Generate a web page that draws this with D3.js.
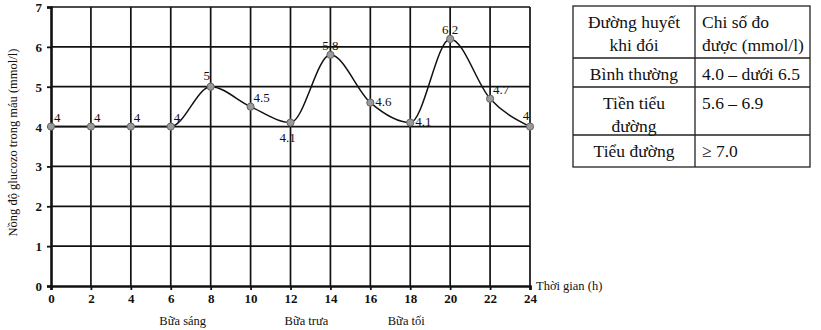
<!DOCTYPE html>
<html>

<head>
    <meta charset="UTF-8" />
    <title>glucose</title>
    <style>
        body {
            margin: 0;
            padding: 0;
            background: #fff;
        }
    </style>
</head>

<body>
    <div class="container"></div>

    <script src="https://cdnjs.cloudflare.com/ajax/libs/d3/7.8.5/d3.min.js"></script>
    <script>
        const hours = [0, 2, 4, 6, 8, 10, 12, 14, 16, 18, 20, 22, 24];
        const glucose = [4, 4, 4, 4, 5, 4.5, 4.1, 5.8, 4.6, 4.1, 6.2, 4.7, 4];
        const labelText = ['4', '4', '4', '4', '5', '4.5', '4.1', '5 8', '4.6', '4.1', '6 2', '4.7', '4'];
        // where each value label sits relative to its point
        const labelPos = ['ur', 'ur', 'ur', 'ur', 'ul', 'ur', 'b', 't', 'r', 'r', 't', 'ur', 'ul'];
        const yTicks = [0, 1, 2, 3, 4, 5, 6, 7];
        const meals = ['Bữa sáng', 'Bữa trưa', 'Bữa tối'];
        const mealHours = [6.6, 12.8, 17.8];

        const tableRows = [
            [['Đường huyết', 'khi đói'], ['Chi số đo', 'được (mmol/l)']],
            [['Bình thường'], ['4.0 – dưới 6.5']],
            [['Tiền tiểu', 'đường'], ['5.6 – 6.9']],
            [['Tiểu đường'], ['≥ 7.0']]
        ];

        const FONT = "'Liberation Serif', 'DejaVu Serif', serif";

        const W = 821, H = 330;
        const svg = d3.select('.container').append('svg')
            .attr('width', W)
            .attr('height', H)
            .style('font-family', FONT);

        const x = d3.scaleLinear().domain([0, 24]).range([51, 530]);
        const y = d3.scaleLinear().domain([0, 7]).range([286, 7]);

        // grid
        const grid = svg.append('g').attr('stroke', '#111').attr('stroke-width', 1.7);
        grid.selectAll('.vg').data(hours.slice(1)).join('line')
            .attr('x1', d => x(d)).attr('x2', d => x(d))
            .attr('y1', y(0)).attr('y2', y(7));
        grid.selectAll('.hg').data(yTicks.slice(1)).join('line')
            .attr('x1', x(0)).attr('x2', x(24))
            .attr('y1', d => y(d)).attr('y2', d => y(d));

        // axes
        const xAxis = svg.append('g')
            .attr('transform', `translate(0,${y(0)})`)
            .call(d3.axisBottom(x).tickValues(hours).tickSize(4).tickPadding(4).tickFormat(d3.format('d')));
        const yAxis = svg.append('g')
            .attr('transform', `translate(${x(0)},0)`)
            .call(d3.axisLeft(y).tickValues(yTicks).tickSize(4).tickPadding(5).tickFormat(d3.format('d')));

        [xAxis, yAxis].forEach(a => {
            a.attr('font-family', FONT);
            a.select('.domain').attr('stroke', '#111').attr('stroke-width', 2.6);
            a.selectAll('.tick line').attr('stroke', '#111').attr('stroke-width', 1.8);
            a.selectAll('.tick text')
                .attr('fill', '#111')
                .style('font-weight', 'bold')
                .style('font-size', '13px');
        });
        yAxis.selectAll('.tick text').attr('dy', '0.35em');

        // axis titles
        svg.append('text')
            .attr('transform', `translate(17,${y(3.6)}) rotate(-90)`)
            .attr('text-anchor', 'middle')
            .attr('font-size', 12.5)
            .attr('fill', '#111')
            .text('Nồng độ glucozo trong máu (mmol/l)');

        svg.append('text')
            .attr('x', x(24) + 6).attr('y', y(0) + 4)
            .attr('font-size', 12.5)
            .attr('fill', '#111')
            .text('Thời gian (h)');

        svg.selectAll('.meal').data(meals).join('text')
            .attr('x', (d, i) => x(mealHours[i]))
            .attr('y', 325)
            .attr('text-anchor', 'middle')
            .attr('font-size', 12.5)
            .attr('fill', '#111')
            .text(d => d);

        // line
        const pts = hours.map((h, i) => ({ h: h, v: glucose[i], t: labelText[i], p: labelPos[i] }));

        const lineGen = d3.line()
            .x(d => x(d.h))
            .y(d => y(d.v))
            .curve(d3.curveMonotoneX);

        svg.append('path')
            .attr('d', lineGen(pts))
            .attr('fill', 'none')
            .attr('stroke', '#111')
            .attr('stroke-width', 1.5);

        svg.selectAll('.pt').data(pts).join('circle')
            .attr('cx', d => x(d.h))
            .attr('cy', d => y(d.v))
            .attr('r', 3.6)
            .attr('fill', '#9a9a9a')
            .attr('stroke', '#666')
            .attr('stroke-width', 1);

        const off = {
            ur: [3, -5, 'start'],
            ul: [-4, -7, 'middle'],
            b: [-3, 19, 'middle'],
            t: [0, -5, 'middle'],
            r: [5, 3, 'start']
        };
        svg.selectAll('.lbl').data(pts).join('text')
            .attr('x', d => x(d.h) + off[d.p][0])
            .attr('y', d => y(d.v) + off[d.p][1])
            .attr('text-anchor', d => off[d.p][2])
            .attr('font-size', 13)
            .attr('fill', '#111')
            .text(d => d.t);

        // reference table
        const tx = [573, 695, 810];
        const ty = [6, 58, 87, 135, 167];
        const tbl = svg.append('g');
        tbl.append('rect')
            .attr('x', tx[0]).attr('y', ty[0])
            .attr('width', tx[2] - tx[0]).attr('height', ty[4] - ty[0])
            .attr('fill', 'none').attr('stroke', '#222').attr('stroke-width', 1.3);
        tbl.append('line')
            .attr('x1', tx[1]).attr('x2', tx[1]).attr('y1', ty[0]).attr('y2', ty[4])
            .attr('stroke', '#222').attr('stroke-width', 1.3);
        tbl.selectAll('.rl').data(ty.slice(1, 4)).join('line')
            .attr('x1', tx[0]).attr('x2', tx[2])
            .attr('y1', d => d).attr('y2', d => d)
            .attr('stroke', '#222').attr('stroke-width', 1.3);

        tableRows.forEach((row, r) => {
            row.forEach((cell, c) => {
                cell.forEach((line, k) => {
                    tbl.append('text')
                        .attr('x', c === 0 ? (tx[0] + tx[1]) / 2 : tx[1] + 7)
                        .attr('y', ty[r] + 22 + k * 23)
                        .attr('text-anchor', c === 0 ? 'middle' : 'start')
                        .attr('font-size', 17.5)
                        .attr('fill', '#111')
                        .text(line);
                });
            });
        });
    </script>
</body>

</html>
